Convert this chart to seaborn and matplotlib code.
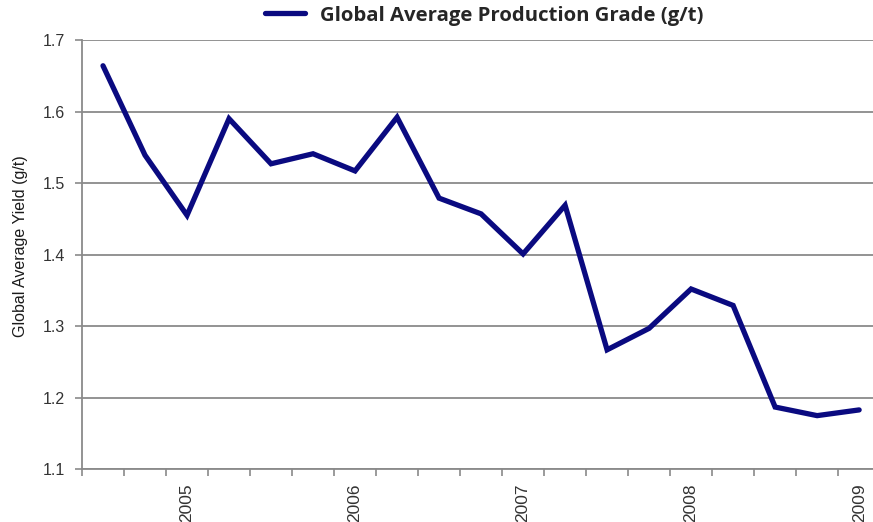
import matplotlib
matplotlib.use("Agg")
import matplotlib.pyplot as plt
import seaborn as sns
import pandas as pd
from matplotlib.ticker import FixedLocator

# Data (quarterly, Q3 2004 .. Q1 2009)
period_index = list(range(19))
grade = [1.664, 1.539, 1.455, 1.590, 1.527, 1.541, 1.517, 1.592, 1.479, 1.457,
         1.401, 1.469, 1.267, 1.297, 1.352, 1.329, 1.187, 1.175, 1.183]
year_label_pos = [2, 6, 10, 14, 18]
year_labels = ["2005", "2006", "2007", "2008", "2009"]
y_ticks = [1.1, 1.2, 1.3, 1.4, 1.5, 1.6, 1.7]
series_name = "Global Average Production Grade (g/t)"

df = pd.DataFrame({"period": period_index, "grade": grade})

sns.set_style("white")
plt.rcParams["font.family"] = ["Liberation Sans", "DejaVu Sans"]

fig = plt.figure(figsize=(8.73, 5.22), dpi=100)
ax = fig.add_axes([82/873, 1 - 469.3/522, 1 - 82/873, (469.3 - 40)/522])

sns.lineplot(data=df, x="period", y="grade", ax=ax, color="#0a0a80",
             linewidth=3.8, label=series_name, solid_joinstyle="miter")

ax.set_xlim(-0.5, 18.33)
ax.set_ylim(1.1, 1.7)
ax.set_yticks(y_ticks)
ax.set_yticklabels([f"{v:.1f}" for v in y_ticks])
ax.yaxis.grid(True, color="#8a8a8a", linewidth=1.3)
ax.set_axisbelow(True)

ax.set_xticks(year_label_pos)
ax.set_xticklabels(year_labels, rotation=90)
ax.xaxis.set_minor_locator(FixedLocator([i - 0.5 for i in range(20)]))
ax.tick_params(axis="x", which="major", length=0, pad=10, labelsize=12.5, labelcolor="#333333")
ax.tick_params(axis="x", which="minor", length=5, width=1.2, color="#8a8a8a", direction="out", bottom=True)
ax.tick_params(axis="y", which="major", length=5, width=1.2, color="#8a8a8a", direction="out",
               left=True, labelsize=11.5, labelcolor="#333333", pad=7)

for s in ["top", "right"]:
    ax.spines[s].set_visible(False)
for s in ["left", "bottom"]:
    ax.spines[s].set_color("#8a8a8a")
    ax.spines[s].set_linewidth(1.3)

ax.set_xlabel("")
ax.set_ylabel("Global Average Yield (g/t)", fontsize=11.5, color="#1a1a1a")
ax.yaxis.set_label_coords((28 - 82) / 791, 1 - (246 - 40) / 429.3)

leg = ax.legend(loc="center", bbox_to_anchor=(0.5 + 0.008, 1.057), frameon=False,
                handlelength=2.0, handletextpad=0.7,
                prop={"family": ["Open Sans", "DejaVu Sans"], "weight": "bold", "size": 14.7})
for t in leg.get_texts():
    t.set_color("#262626")

fig.savefig("out.png", dpi=100)
